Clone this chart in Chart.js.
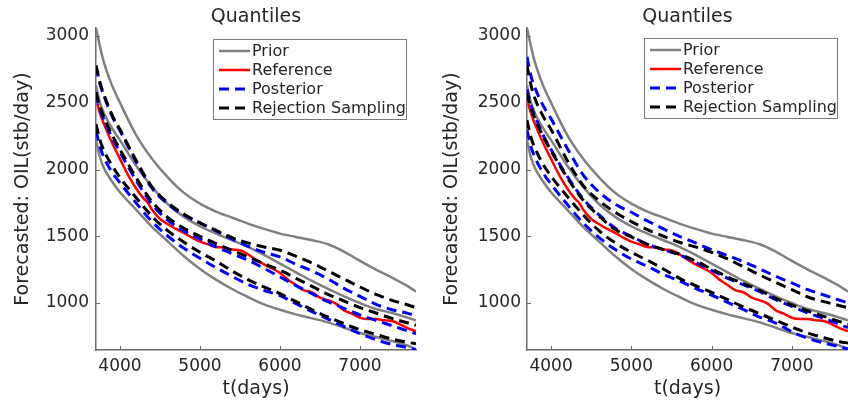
<!DOCTYPE html>
<html>
<head>
<meta charset="utf-8">
<script src="https://cdn.jsdelivr.net/npm/chart.js@4.4.0/dist/chart.umd.min.js"></script>
<style>
  body { margin: 0; background: #fff; }
  #wrap { position: relative; width: 848px; height: 404px; overflow: hidden; background: #fff; }
  canvas { position: absolute; top: 0; }
</style>
</head>
<body>
<div id="wrap">
  <canvas id="left" width="424" height="404" style="left:0"></canvas>
  <canvas id="right" width="424" height="404" style="left:424px"></canvas>
</div>
<script>
// time axis (days) shared by the quantile curves
const days = [3700, 3750, 3800, 3900, 4000, 4200, 4400, 4600, 4800, 5000, 5200, 5400,
              5600, 5800, 6000, 6200, 6400, 6600, 6800, 7000, 7200, 7400, 7600, 7700];

// prior quantiles (same in both panels)
const priorP90 = [3060, 2920, 2800, 2630, 2500, 2260, 2080, 1940, 1825, 1745, 1685, 1640,
                  1595, 1555, 1520, 1495, 1470, 1440, 1385, 1315, 1250, 1190, 1125, 1085];
const priorP50 = [2630, 2500, 2420, 2310, 2220, 2030, 1870, 1740, 1645, 1575, 1520, 1470,
                  1420, 1360, 1295, 1230, 1165, 1105, 1050, 1000, 955, 925, 890, 870];
const priorP10 = [2220, 2090, 2010, 1910, 1830, 1700, 1570, 1460, 1350, 1255, 1175, 1105,
                  1045, 990, 950, 915, 885, 855, 815, 775, 745, 715, 680, 655];

// reference (true) production
const refDays = [3700, 3750, 3800, 3900, 4000, 4100, 4200, 4300, 4350, 4400, 4500, 4600, 4700,
                 4800, 4900, 5000, 5100, 5200, 5300, 5400, 5500, 5600, 5700, 5800, 5900, 6000,
                 6100, 6200, 6300, 6400, 6500, 6600, 6700, 6800, 6900, 7000, 7100, 7200, 7300,
                 7400, 7500, 7600, 7700];
const reference = [2530, 2420, 2340, 2200, 2080, 1960, 1860, 1780, 1750, 1700, 1630, 1590, 1555,
                   1525, 1490, 1460, 1440, 1420, 1415, 1400, 1395, 1365, 1325, 1290, 1260, 1225,
                   1175, 1135, 1095, 1080, 1040, 1020, 995, 945, 920, 890, 880, 880, 870,
                   865, 840, 810, 790];

// left panel: posterior and rejection sampling quantiles
const postL90 = [2770, 2640, 2550, 2400, 2290, 2060, 1860, 1740, 1660, 1600, 1540, 1480,
                 1425, 1380, 1345, 1290, 1240, 1180, 1110, 1050, 990, 950, 922, 905];
const postL50 = [2560, 2450, 2370, 2240, 2130, 1920, 1740, 1620, 1540, 1480, 1420, 1370,
                 1320, 1260, 1195, 1130, 1070, 1010, 960, 910, 870, 830, 790, 770];
const postL10 = [2290, 2170, 2090, 1980, 1900, 1750, 1610, 1500, 1410, 1335, 1265, 1200,
                 1140, 1095, 1055, 995, 935, 880, 825, 770, 725, 690, 665, 650];
const rsL90 = [2780, 2650, 2560, 2410, 2300, 2070, 1870, 1750, 1665, 1600, 1545, 1490,
               1450, 1420, 1395, 1350, 1300, 1240, 1180, 1120, 1065, 1020, 985, 965];
const rsL50 = [2580, 2470, 2390, 2260, 2150, 1940, 1760, 1640, 1560, 1500, 1445, 1395,
               1345, 1295, 1245, 1185, 1125, 1065, 1015, 965, 925, 885, 850, 832];
const rsL10 = [2340, 2220, 2140, 2030, 1940, 1790, 1650, 1540, 1455, 1380, 1315, 1240,
               1175, 1120, 1070, 1010, 950, 895, 845, 800, 765, 730, 705, 695];

// right panel: posterior and rejection sampling quantiles
const postR90 = [2845, 2700, 2610, 2480, 2380, 2160, 1960, 1830, 1740, 1680, 1615, 1555,
                 1500, 1450, 1400, 1355, 1310, 1255, 1200, 1150, 1100, 1060, 1020, 1000];
const postR50 = [2600, 2480, 2400, 2260, 2150, 1950, 1780, 1660, 1560, 1500, 1440, 1400,
                 1360, 1305, 1245, 1185, 1135, 1085, 1025, 975, 925, 885, 840, 815];
const postR10 = [2295, 2170, 2090, 1975, 1890, 1740, 1600, 1490, 1400, 1330, 1275, 1215,
                 1165, 1110, 1060, 1005, 950, 895, 850, 785, 735, 700, 672, 655];
const rsR90 = [2780, 2630, 2530, 2400, 2300, 2070, 1880, 1765, 1680, 1610, 1550, 1500,
               1455, 1420, 1380, 1330, 1270, 1210, 1155, 1100, 1045, 1010, 980, 965];
const rsR50 = [2570, 2460, 2380, 2250, 2140, 1940, 1770, 1650, 1550, 1495, 1440, 1400,
               1365, 1315, 1255, 1195, 1145, 1095, 1035, 985, 940, 900, 860, 840];
const rsR10 = [2370, 2240, 2160, 2040, 1950, 1800, 1660, 1540, 1450, 1380, 1320, 1255,
               1185, 1130, 1080, 1025, 970, 920, 870, 820, 775, 740, 710, 700];

const xTicks = [4000, 5000, 6000, 7000];
const yTicks = [1000, 1500, 2000, 2500, 3000];

const FONT = "'DejaVu Sans', sans-serif";
const TXT = '#262626';
const AXIS = '#6a6a6a';
const GREY = '#808080';
const DASH = [10, 6];

function series(xs, ys) {
  return xs.map((x, i) => ({ x: x, y: ys[i] }));
}

function line(label, xs, ys, color, width, dash, order) {
  return {
    label: label,
    data: series(xs, ys),
    borderColor: color,
    borderWidth: width,
    borderDash: dash,
    pointRadius: 0,
    fill: false,
    cubicInterpolationMode: 'monotone',
    order: order,
  };
}

// MATLAB style ticks pointing into the plot
const inwardTicks = {
  id: 'inwardTicks',
  afterDatasetsDraw(chart) {
    const ctx = chart.ctx;
    const xs = chart.scales.x, ys = chart.scales.y;
    const a = chart.chartArea;
    ctx.save();
    ctx.strokeStyle = AXIS;
    ctx.lineWidth = 1;
    xTicks.forEach((v) => {
      const px = Math.round(xs.getPixelForValue(v)) + 0.5;
      ctx.beginPath();
      ctx.moveTo(px, a.bottom);
      ctx.lineTo(px, a.bottom - 4);
      ctx.stroke();
    });
    yTicks.forEach((v) => {
      const py = Math.round(ys.getPixelForValue(v)) + 0.5;
      ctx.beginPath();
      ctx.moveTo(a.left, py);
      ctx.lineTo(a.left + 4, py);
      ctx.stroke();
    });
    ctx.restore();
  },
};

// legend box drawn inside the axes, upper right
const boxLegend = {
  id: 'boxLegend',
  afterDraw(chart, args, opts) {
    const ctx = chart.ctx;
    const seen = {};
    const items = [];
    chart.data.datasets.forEach((d) => {
      if (!seen[d.label]) { seen[d.label] = true; items.push(d); }
    });
    const x0 = opts.x, y0 = opts.y, w = opts.w, h = opts.h;
    ctx.save();
    ctx.fillStyle = '#fff';
    ctx.fillRect(x0, y0, w, h);
    ctx.strokeStyle = '#7a7a7a';
    ctx.lineWidth = 1;
    ctx.strokeRect(x0 + 0.5, y0 + 0.5, w, h);
    ctx.font = '16px ' + FONT;
    ctx.textBaseline = 'middle';
    items.forEach((d, i) => {
      const yy = y0 + 12 + i * 19;
      ctx.strokeStyle = d.borderColor;
      ctx.lineWidth = d.borderWidth;
      ctx.setLineDash(d.borderDash || []);
      ctx.beginPath();
      ctx.moveTo(x0 + 6, yy);
      ctx.lineTo(x0 + 37, yy);
      ctx.stroke();
      ctx.setLineDash([]);
      ctx.fillStyle = TXT;
      ctx.fillText(d.label, x0 + 39, yy + 1);
    });
    ctx.restore();
  },
};

function makeChart(id, post, rs, layout) {
  const datasets = [
    line('Prior', days, priorP90, GREY, 2.5, [], 4),
    line('Prior', days, priorP50, GREY, 2.5, [], 4),
    line('Prior', days, priorP10, GREY, 2.5, [], 4),
    line('Reference', refDays, reference, '#ff0000', 2.5, [], 3),
    line('Posterior', days, post[0], '#0000ff', 3, DASH, 2),
    line('Posterior', days, post[1], '#0000ff', 3, DASH, 2),
    line('Posterior', days, post[2], '#0000ff', 3, DASH, 2),
    line('Rejection Sampling', days, rs[0], '#000000', 3, DASH, 1),
    line('Rejection Sampling', days, rs[1], '#000000', 3, DASH, 1),
    line('Rejection Sampling', days, rs[2], '#000000', 3, DASH, 1),
  ];
  return new Chart(document.getElementById(id).getContext('2d'), {
    type: 'line',
    data: { datasets: datasets },
    options: {
      responsive: false,
      animation: false,
      devicePixelRatio: 1,
      layout: { padding: { left: 0, right: layout.rightPad, top: 0, bottom: 0 } },
      plugins: {
        legend: { display: false },
        tooltip: { enabled: false },
        title: {
          display: true,
          text: 'Quantiles',
          fullSize: false,
          color: TXT,
          font: { family: FONT, size: 19, weight: 'normal', lineHeight: 1.0 },
          padding: { top: 8, bottom: 1 },
        },
        boxLegend: layout.legend,
      },
      scales: {
        x: {
          type: 'linear',
          min: 3700,
          max: 7700,
          afterFit: (s) => { s.height = 54; },
          afterBuildTicks: (s) => { s.ticks = xTicks.map((v) => ({ value: v })); },
          grid: { display: false, tickLength: 0 },
          border: { display: true, color: AXIS, width: 1.5 },
          ticks: {
            padding: 6, color: TXT, maxRotation: 0,
            font: { family: FONT, size: 17 },
            callback: (v) => String(v),
          },
          title: {
            display: true,
            text: 't(days)',
            color: TXT,
            font: { family: FONT, size: 19 },
            padding: { top: 0, bottom: 4 },
          },
        },
        y: {
          type: 'linear',
          min: 648,
          max: 3060,
          afterFit: (s) => { s.width = layout.yWidth; },
          afterBuildTicks: (s) => { s.ticks = yTicks.map((v) => ({ value: v })); },
          grid: { display: false, tickLength: 0 },
          border: { display: true, color: AXIS, width: 1.5 },
          ticks: {
            padding: layout.tickPad, color: TXT,
            font: { family: FONT, size: 17 },
            callback: (v) => String(v),
          },
          title: {
            display: true,
            text: 'Forecasted: OIL(stb/day)',
            color: TXT,
            font: { family: FONT, size: 19 },
            padding: { top: layout.titlePad, bottom: 0 },
          },
        },
      },
    },
    plugins: [inwardTicks, boxLegend],
  });
}

makeChart('left', [postL90, postL50, postL10], [rsL90, rsL50, rsL10],
  { yWidth: 96, rightPad: 8, tickPad: 7, titlePad: 12, legend: { x: 213, y: 39, w: 193, h: 80 } });
makeChart('right', [postR90, postR50, postR10], [rsR90, rsR50, rsR10],
  { yWidth: 103, rightPad: 0, tickPad: 6, titlePad: 17, legend: { x: 220, y: 38, w: 193, h: 80 } });
</script>
</body>
</html>
